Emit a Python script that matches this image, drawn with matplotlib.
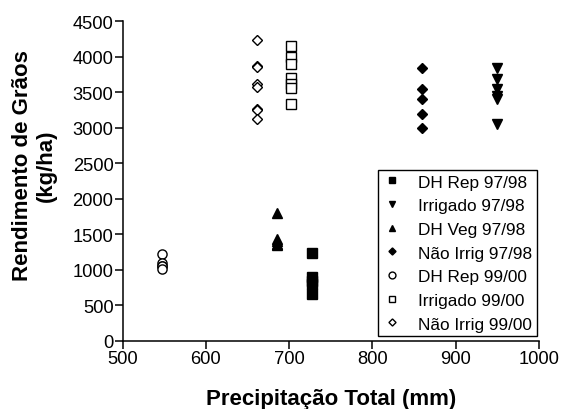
import matplotlib
matplotlib.use("Agg")
import matplotlib.pyplot as plt

plt.rcParams['font.family'] = ['Liberation Sans', 'DejaVu Sans']

# precipitacao (mm) e rendimento (kg/ha) por tratamento
dh_rep_9798_x = [728, 728, 728, 728, 728]
dh_rep_9798_y = [1240, 900, 850, 800, 660]
irrig_9798_x = [950, 950, 950, 950, 950, 950]
irrig_9798_y = [3840, 3680, 3540, 3440, 3400, 3050]
dh_veg_9798_x = [686, 686, 686, 686, 686]
dh_veg_9798_y = [1800, 1430, 1400, 1370, 1350]
nao_irrig_9798_x = [859, 859, 859, 859, 859]
nao_irrig_9798_y = [3840, 3550, 3400, 3200, 3000]
dh_rep_9900_x = [548, 548, 548, 548, 548]
dh_rep_9900_y = [1230, 1090, 1060, 1050, 1010]
irrig_9900_x = [702, 702, 702, 702, 702, 702, 702]
irrig_9900_y = [4150, 4000, 3900, 3700, 3620, 3560, 3340]
nao_irrig_9900_x = [662, 662, 662, 662, 662, 662, 662, 662]
nao_irrig_9900_y = [4230, 3870, 3850, 3620, 3570, 3270, 3250, 3120]

series = [
    (dh_rep_9798_x, dh_rep_9798_y, 's', 'black', 'DH Rep 97/98'),
    (irrig_9798_x, irrig_9798_y, 'v', 'black', 'Irrigado 97/98'),
    (dh_veg_9798_x, dh_veg_9798_y, '^', 'black', 'DH Veg 97/98'),
    (nao_irrig_9798_x, nao_irrig_9798_y, 'D', 'black', 'Não Irrig 97/98'),
    (dh_rep_9900_x, dh_rep_9900_y, 'o', 'white', 'DH Rep 99/00'),
    (irrig_9900_x, irrig_9900_y, 's', 'white', 'Irrigado 99/00'),
    (nao_irrig_9900_x, nao_irrig_9900_y, 'D', 'white', 'Não Irrig 99/00'),
]

fig = plt.figure(figsize=(5.62, 4.10), dpi=100)
ax = fig.add_axes([0.218, 0.166, 0.741, 0.780])

for x, y, m, fc, lab in series:
    ms = 4.8 if m == 'D' else 6.6
    ax.plot(x, y, linestyle='none', marker=m, markersize=ms,
            markerfacecolor=fc, markeredgecolor='black', markeredgewidth=1.0,
            label=lab)

ax.set_xlim(500, 1000)
ax.set_ylim(0, 4500)
ax.set_xticks(range(500, 1001, 100))
ax.set_yticks(range(0, 4501, 500))
ax.spines['top'].set_visible(False)
ax.spines['right'].set_visible(False)
ax.spines['left'].set_linewidth(1.1)
ax.spines['bottom'].set_linewidth(1.1)
ax.tick_params(labelsize=13.2, length=6, width=1.1, pad=0.5)

ax.set_xlabel('Precipitação Total (mm)', fontsize=16, fontweight='bold')
ax.xaxis.set_label_coords(0.5, -0.148)
ax.set_ylabel('Rendimento de Grãos\n(kg/ha)', fontsize=16, fontweight='bold',
              linespacing=1.15)
ax.yaxis.set_label_coords(-0.158, 0.55)

leg = ax.legend(loc='lower right', bbox_to_anchor=(0.995, 0.016), fontsize=12.4,
                frameon=True, fancybox=False, edgecolor='black', framealpha=1,
                handletextpad=0.95, borderpad=0.25, labelspacing=0.5, handlelength=1.17,
                borderaxespad=0, markerscale=0.75)
leg.get_frame().set_linewidth(1.0)

fig.savefig('out.png', dpi=100)
